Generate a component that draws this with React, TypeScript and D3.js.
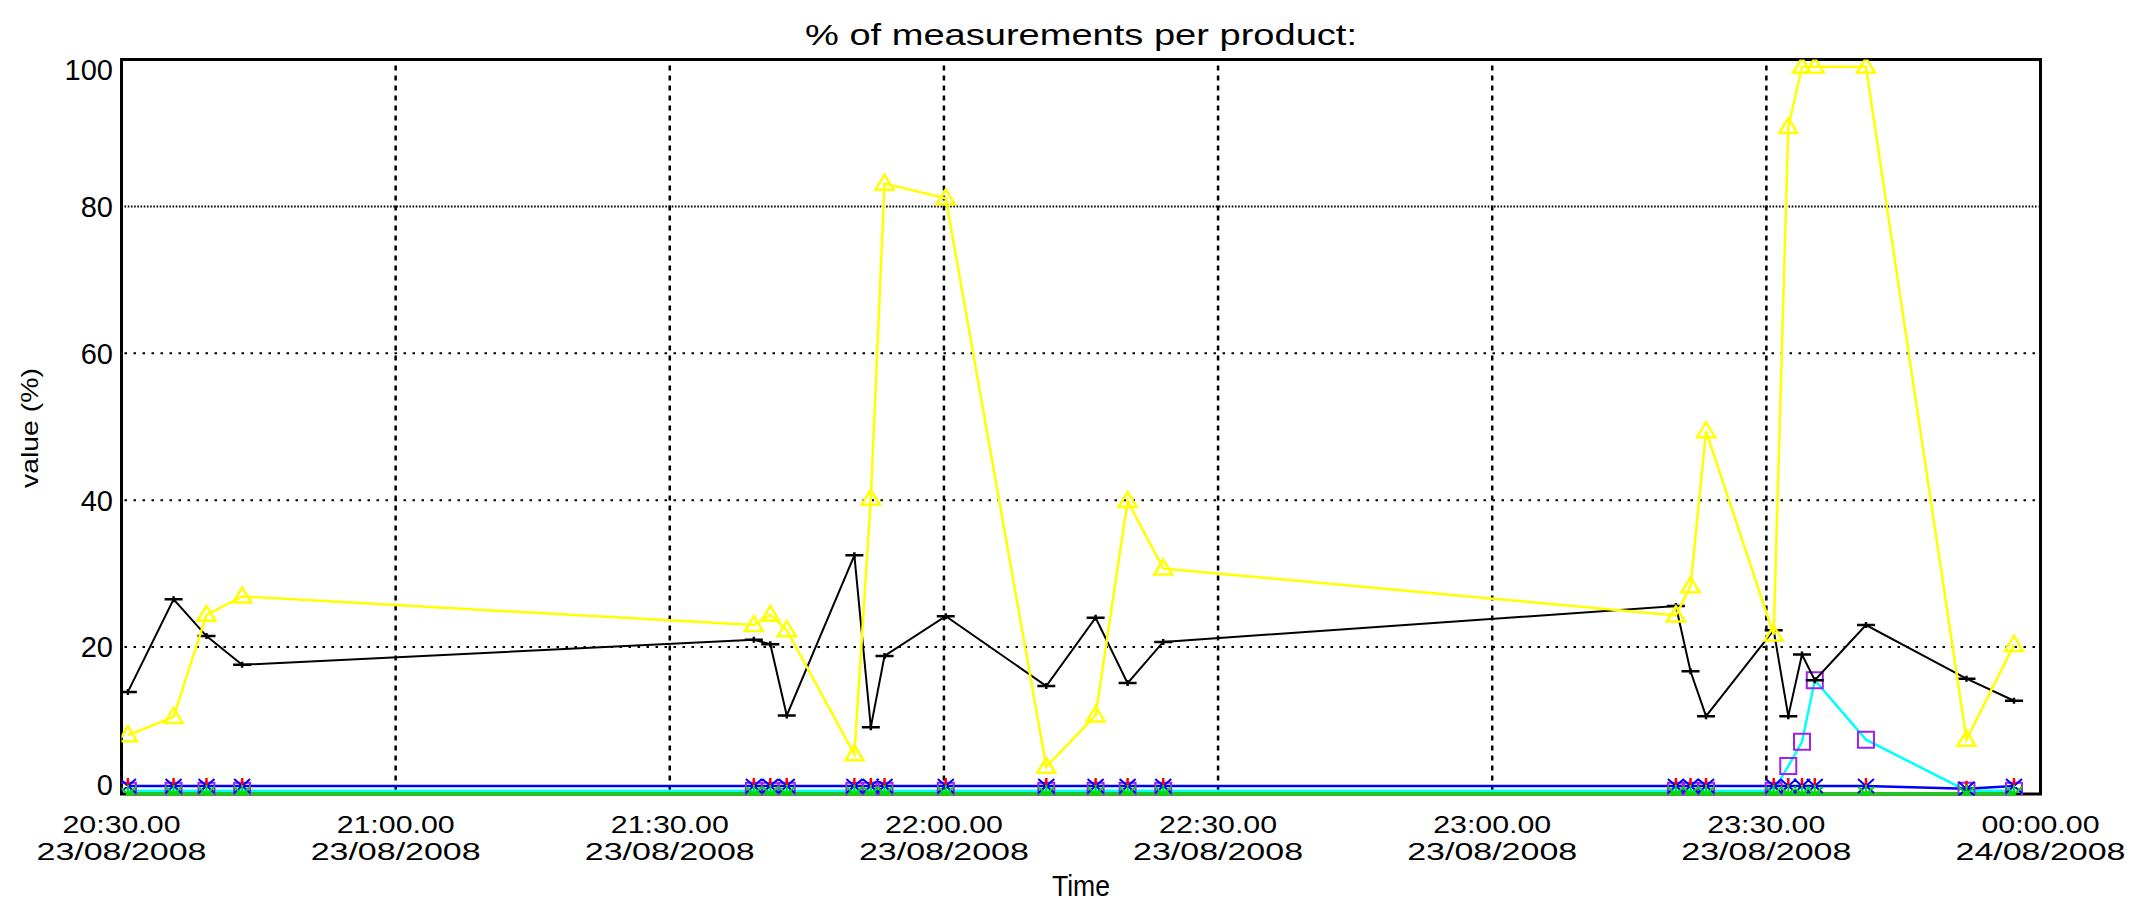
import React from 'react';
import * as d3 from 'd3';

// ---------- data ----------
const DAY = '2008-08-23';
const sampleTimes = [
  '20:30:42', '20:35:42', '20:39:18', '20:43:12',
  '21:39:12', '21:41:00', '21:42:48',
  '21:50:12', '21:52:00', '21:53:30',
  '22:00:12',
  '22:11:12', '22:16:36', '22:20:06', '22:24:00',
  '23:20:06', '23:21:42', '23:23:24',
  '23:30:48', '23:32:24', '23:33:54', '23:35:18',
  '23:40:54', '23:51:54', '23:57:06',
];
const blackValues = [13.9, 26.5, 21.5, 17.6, 21.0, 20.4, 10.7, 32.5, 9.1, 18.8, 24.2, 14.7, 24.0, 15.1, 20.7, 25.6, 16.7, 10.6, 22.3, 10.6, 19.0, 15.5, 23.0, 15.7, 12.7];
const yellowValues = [8.0, 10.5, 24.4, 26.9, 23.0, 24.4, 22.3, 5.4, 40.2, 83.1, 81.1, 3.7, 10.7, 39.9, 30.7, 24.3, 28.3, 49.4, 21.7, 90.8, 99.0, 99.0, 99.0, 7.4, 20.3];
const cyanValues = [0.45, 0.45, 0.45, 0.45, 0.45, 0.45, 0.45, 0.45, 0.45, 0.45, 0.45, 0.45, 0.45, 0.45, 0.45, 0.45, 0.45, 0.45, 0.45, 3.8, 7.1, 15.5, 7.4, 0.45, 0.45];
const blueValues = [1.1, 1.1, 1.1, 1.1, 1.1, 1.1, 1.1, 1.1, 1.1, 1.1, 1.1, 1.1, 1.1, 1.1, 1.1, 1.1, 1.1, 1.1, 1.1, 1.1, 1.1, 1.1, 1.1, 0.7, 1.1];
const redValues = [1.1, 1.1, 1.1, 1.1, 1.1, 1.1, 1.1, 1.1, 1.1, 1.1, 1.1, 1.1, 1.1, 1.1, 1.1, 1.1, 1.1, 1.1, 1.1, 1.1, 1.1, 1.1, 1.1, 0.7, 1.1];
const greenValues = [0, 0, 0, 0, 0, 0, 0, 0, 0, 0, 0, 0, 0, 0, 0, 0, 0, 0, 0, 0, 0, 0, 0, 0, 0];

const yTicks = [0, 20, 40, 60, 80, 100];
const xTickTimes = ['2008-08-23 20:30', '2008-08-23 21:00', '2008-08-23 21:30', '2008-08-23 22:00', '2008-08-23 22:30', '2008-08-23 23:00', '2008-08-23 23:30', '2008-08-24 00:00'];
const xTickTimeLabels = ['20:30.00', '21:00.00', '21:30.00', '22:00.00', '22:30.00', '23:00.00', '23:30.00', '00:00.00'];
const xTickDateLabels = ['23/08/2008', '23/08/2008', '23/08/2008', '23/08/2008', '23/08/2008', '23/08/2008', '23/08/2008', '24/08/2008'];

const TITLE = '% of measurements per product:';
const X_LABEL = 'Time';
const Y_LABEL = 'value (%)';

// ---------- layout ----------
const W = 2136;
const H = 902;
const L = 121.5;
const R = 2040.5;
const T = 59.5;
const B = 794;
const FONT = '"Liberation Sans", Arial, sans-serif';

const parseFull = d3.timeParse('%Y-%m-%d %H:%M:%S');
const parseTick = d3.timeParse('%Y-%m-%d %H:%M');
const dates = sampleTimes.map((t) => parseFull(`${DAY} ${t}`) as Date);
const tickDates = xTickTimes.map((t) => parseTick(t) as Date);

const x = d3.scaleTime().domain([tickDates[0], tickDates[tickDates.length - 1]]).range([L, R]);
const y = d3.scaleLinear().domain([0, 100]).range([B, T]);

type Pt = { d: Date; v: number };
const series = (vals: number[]): Pt[] => vals.map((v, i) => ({ d: dates[i], v }));

const lineGen = d3.line<Pt>().x((p) => x(p.d)).y((p) => y(p.v));

const plusMark = (cx: number, cy: number) => `M${cx - 9},${cy}H${cx + 9}M${cx},${cy - 3}V${cy + 3}`;
const triMark = (cx: number, cy: number) => `M${cx},${cy - 9}L${cx + 9},${cy + 6}L${cx - 9},${cy + 6}Z`;
const sqMark = (cx: number, cy: number) => `M${cx - 8},${cy - 8}h16v16h-16Z`;
const xMark = (cx: number, cy: number) => `M${cx - 8},${cy - 7}L${cx + 8},${cy + 7}M${cx + 8},${cy - 7}L${cx - 8},${cy + 7}`;
const vMark = (cx: number, cy: number) => `M${cx},${cy - 8}V${cy}`;
const astMark = (cx: number, cy: number) => `M${cx - 8},${cy - 7}L${cx + 8},${cy + 7}M${cx + 8},${cy - 7}L${cx - 8},${cy + 7}M${cx},${cy - 9}V${cy + 9}`;

function Series({ vals, color, width, marker, markColor, markWidth, showLine = true }: {
  vals: number[]; color: string; width: number; marker?: (cx: number, cy: number) => string;
  markColor?: string; markWidth?: number; showLine?: boolean;
}) {
  const pts = series(vals);
  return (
    <g>
      {showLine && <path d={lineGen(pts) || ''} fill="none" stroke={color} strokeWidth={width} strokeLinejoin="miter" />}
      {marker && (
        <path
          d={pts.map((p) => marker(x(p.d), y(p.v))).join('')}
          fill="none"
          stroke={markColor || color}
          strokeWidth={markWidth || width}
        />
      )}
    </g>
  );
}

export default function App() {
  const hGrid = yTicks.filter((v) => v > 0 && v < 100);
  const vGrid = tickDates.slice(1, -1);
  return (
    <svg width={W} height={H} style={{ position: 'absolute', left: 0, top: 0, background: '#fff' }} fontFamily={FONT}>
      <defs>
        <clipPath id="plotClip">
          <rect x={L} y={T} width={R - L} height={B - T + 1.5} />
        </clipPath>
      </defs>
      <rect x={0} y={0} width={W} height={H} fill="#fff" />

      {/* grid */}
      {hGrid.map((v) => (
        <line key={`h${v}`} x1={L + 3} x2={R - 2} y1={y(v)} y2={y(v)} stroke="#000" strokeWidth={2} strokeDasharray={v === 80 ? '1.6 1.6' : '2.5 6.5'} />
      ))}
      {vGrid.map((d, i) => (
        <line key={`v${i}`} x1={x(d)} x2={x(d)} y1={T + 6} y2={B - 2} stroke="#000" strokeWidth={2.5} strokeDasharray="5 5" />
      ))}

      {/* frame */}
      <rect x={L} y={T} width={R - L} height={B - T} fill="none" stroke="#000" strokeWidth={3} />

      {/* data */}
      <g clipPath="url(#plotClip)">
        <Series vals={greenValues} color="#00dd00" width={3} />
        <Series vals={cyanValues} color="#00ffff" width={2.5} />
        <Series vals={blueValues} color="#0000ff" width={2.5} />
        <Series vals={cyanValues} color="#00ffff" width={2} marker={sqMark} markColor="#a020f0" showLine={false} />
        <Series vals={blueValues} color="#0000ff" width={2} marker={xMark} showLine={false} />
        <Series vals={redValues} color="#ff0000" width={2.5} marker={vMark} showLine={false} />
        <Series vals={greenValues} color="#00dd00" width={2} marker={astMark} showLine={false} />
        <Series vals={blackValues} color="#000000" width={2} marker={plusMark} markWidth={2.5} />
        <Series vals={yellowValues} color="#ffff00" width={2.5} marker={triMark} markWidth={2.5} />
      </g>

      {/* y tick labels */}
      {yTicks.map((v) => {
        const cy = Math.min(Math.max(y(v), T + 10.5), B - 9);
        return (
          <text key={`yl${v}`} x={113} y={cy + 10.3} textAnchor="end" fontSize={29} fill="#000">
            {v}
          </text>
        );
      })}

      {/* x tick labels */}
      {tickDates.map((d, i) => (
        <g key={`xl${i}`}>
          <text x={x(d)} y={833} textAnchor="middle" fontSize={23} fill="#000" textLength={118} lengthAdjust="spacingAndGlyphs">
            {xTickTimeLabels[i]}
          </text>
          <text x={x(d)} y={859.5} textAnchor="middle" fontSize={23} fill="#000" textLength={170} lengthAdjust="spacingAndGlyphs">
            {xTickDateLabels[i]}
          </text>
        </g>
      ))}

      {/* titles */}
      <text x={(L + R) / 2} y={45} textAnchor="middle" fontSize={30} fill="#000" textLength={552} lengthAdjust="spacingAndGlyphs">
        {TITLE}
      </text>
      <text x={(L + R) / 2} y={896} textAnchor="middle" fontSize={30} fill="#000" textLength={58} lengthAdjust="spacingAndGlyphs">
        {X_LABEL}
      </text>
      <text transform={`translate(38,428) rotate(-90)`} textAnchor="middle" fontSize={24} fill="#000" textLength={120} lengthAdjust="spacingAndGlyphs">
        {Y_LABEL}
      </text>
    </svg>
  );
}
